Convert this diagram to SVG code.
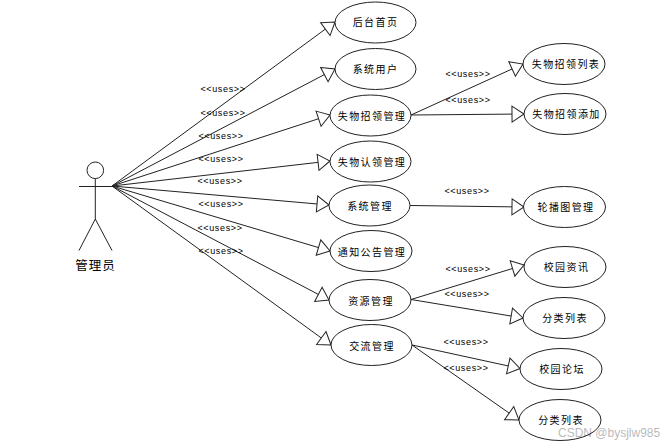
<svg xmlns="http://www.w3.org/2000/svg" width="668" height="447" viewBox="0 0 668 447">
<style>
text{font-family:"Liberation Sans","Noto Sans CJK SC",sans-serif;fill:#000;text-anchor:middle}
.n{font-size:10px;letter-spacing:1.4px}
.u{font-size:9px;letter-spacing:0.65px}
.w{font-size:12px;fill:#000;opacity:.28;text-anchor:start;font-family:"Liberation Sans",sans-serif}
ellipse{fill:#fff;stroke:#222;stroke-width:1}
.c line{stroke:#222;stroke-width:1;fill:none;marker-end:url(#t)}
.a{stroke:#222;stroke-width:1;fill:none}
</style>
<defs>
<marker id="t" markerUnits="userSpaceOnUse" markerWidth="16" markerHeight="20" refX="14" refY="10" orient="auto" overflow="visible">
<path d="M2 2 L14 10 L2 18 Z" fill="#fff" stroke="#222" stroke-width="1"/>
</marker>
</defs>
<rect width="668" height="447" fill="#fff"/>
<g id="connectors" class="c">
<line x1="112" y1="186" x2="335" y2="22"/>
<line x1="112" y1="186" x2="335" y2="69"/>
<line x1="112" y1="186" x2="330" y2="115"/>
<line x1="112" y1="186" x2="330" y2="161"/>
<line x1="112" y1="186" x2="329" y2="205"/>
<line x1="112" y1="186" x2="330" y2="251"/>
<line x1="112" y1="186" x2="329" y2="300"/>
<line x1="112" y1="186" x2="331" y2="345"/>
<line x1="411" y1="115" x2="523" y2="64"/>
<line x1="411" y1="115" x2="524" y2="114"/>
<line x1="410" y1="205.5" x2="524" y2="207"/>
<line x1="411" y1="299.500" x2="524" y2="265"/>
<line x1="411" y1="299.500" x2="523" y2="318"/>
<line x1="412" y1="345" x2="520" y2="368.500"/>
<line x1="412" y1="345" x2="519" y2="420"/>
</g>
<g id="actor">
<circle class="a" cx="95.300" cy="170.300" r="8.300"/>
<path class="a" d="M95.300 178.700V219M79 186.500H112M95.300 219L79 250.500M95.300 219L112 250.500"/>
<text x="95.500" y="270" style="font-size:12.500px;letter-spacing:1px">管理员</text>
</g>
<g id="n1"><ellipse cx="375.500" cy="22.500" rx="40.500" ry="20.500"/><text class="n" x="375.500" y="26">后台首页</text></g>
<g id="n2"><ellipse cx="375.500" cy="69" rx="40.500" ry="20.500"/><text class="n" x="375.500" y="73">系统用户</text></g>
<g id="n3"><ellipse cx="370.500" cy="115.500" rx="40.500" ry="20.500"/><text class="n" x="372" y="120">失物招领管理</text></g>
<g id="n4"><ellipse cx="370.500" cy="161.500" rx="40.500" ry="20.500"/><text class="n" x="372" y="166">失物认领管理</text></g>
<g id="n5"><ellipse cx="369.500" cy="205.500" rx="40.500" ry="20.500"/><text class="n" x="370" y="210">系统管理</text></g>
<g id="n6"><ellipse cx="371" cy="251" rx="41" ry="20.500"/><text class="n" x="372" y="255.500">通知公告管理</text></g>
<g id="n7"><ellipse cx="370" cy="300" rx="41" ry="20.500"/><text class="n" x="371" y="304.500">资源管理</text></g>
<g id="n8"><ellipse cx="371.500" cy="345" rx="40.500" ry="20.500"/><text class="n" x="372" y="349.500">交流管理</text></g>
<g id="n9"><ellipse cx="564" cy="64" rx="41" ry="20.500"/><text class="n" x="566" y="68">失物招领列表</text></g>
<g id="n10"><ellipse cx="565" cy="114" rx="41" ry="20.500"/><text class="n" x="566.500" y="118">失物招领添加</text></g>
<g id="n11"><ellipse cx="564.500" cy="207" rx="41" ry="20.500"/><text class="n" x="566" y="211">轮播图管理</text></g>
<g id="n12"><ellipse cx="565" cy="267" rx="41" ry="20.500"/><text class="n" x="566.500" y="271">校园资讯</text></g>
<g id="n13"><ellipse cx="564" cy="318" rx="41" ry="20.500"/><text class="n" x="565" y="322">分类列表</text></g>
<g id="n14"><ellipse cx="561" cy="369" rx="41" ry="20.500"/><text class="n" x="562" y="373">校园论坛</text></g>
<g id="n15"><ellipse cx="560" cy="420" rx="41" ry="20.500"/><text class="n" x="561" y="424">分类列表</text></g>
<g id="labels">
<text class="u" x="223" y="92">&lt;&lt;uses&gt;&gt;</text>
<text class="u" x="223" y="116">&lt;&lt;uses&gt;&gt;</text>
<text class="u" x="221" y="139">&lt;&lt;uses&gt;&gt;</text>
<text class="u" x="221" y="162">&lt;&lt;uses&gt;&gt;</text>
<text class="u" x="220" y="184">&lt;&lt;uses&gt;&gt;</text>
<text class="u" x="221" y="207">&lt;&lt;uses&gt;&gt;</text>
<text class="u" x="220" y="231">&lt;&lt;uses&gt;&gt;</text>
<text class="u" x="221" y="254">&lt;&lt;uses&gt;&gt;</text>
<text class="u" x="468" y="77">&lt;&lt;uses&gt;&gt;</text>
<text class="u" x="468" y="103">&lt;&lt;uses&gt;&gt;</text>
<text class="u" x="467" y="194">&lt;&lt;uses&gt;&gt;</text>
<text class="u" x="468" y="272">&lt;&lt;uses&gt;&gt;</text>
<text class="u" x="467" y="297">&lt;&lt;uses&gt;&gt;</text>
<text class="u" x="466" y="345">&lt;&lt;uses&gt;&gt;</text>
<text class="u" x="466" y="371">&lt;&lt;uses&gt;&gt;</text>
</g>
<text class="w" x="558" y="437">CSDN @bysjlw985</text>
</svg>
